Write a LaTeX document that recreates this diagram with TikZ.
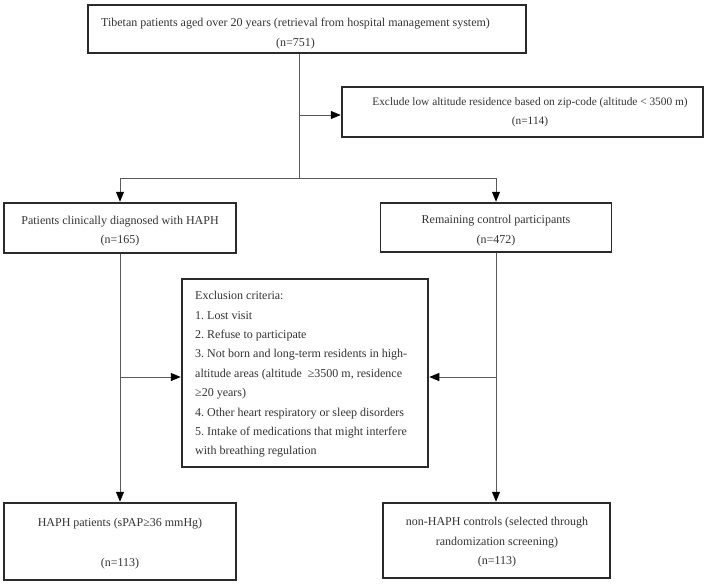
\documentclass[tikz,border=0pt]{standalone}
\usepackage{fontspec}
\setmainfont{Liberation Serif}
\usetikzlibrary{arrows.meta}
\definecolor{txt}{HTML}{333333}
\definecolor{edge}{HTML}{2A2A2A}
\definecolor{conn}{HTML}{5A5A5A}
\frenchspacing
\begin{document}
\begin{tikzpicture}[x=1pt,y=-1pt,
  box/.style={draw=edge,line width=1.3pt,rectangle,inner sep=0pt},
  label text/.style={inner sep=0pt,text=txt,align=center,font=\fontsize{12}{19.4}\selectfont},
  link/.style={draw=conn,line width=0.9pt},
  arr/.style={link,-{Triangle[length=10pt,width=8pt,color=black]},shorten >=0.6pt}]
\useasboundingbox (0,0) rectangle (708,583);
\fill[white] (0,0) rectangle (708,583);

\node[box,minimum width=438pt,minimum height=48pt] (top) at (307,29) {};
\node[label text,font=\fontsize{12}{20.5}\selectfont] (toptext) at (295.5,33.5)
  {Tibetan patients aged over 20 years (retrieval from hospital management system)\\(n=751)};
\node[box,minimum width=361pt,minimum height=50pt] (excl) at (522.5,112) {};
\node[label text,font=\fontsize{11.35}{18.5}\selectfont] (excltext) at (530,112.5)
  {Exclude low altitude residence based on zip-code (altitude < 3500 m)\\(n=114)};
\node[box,minimum width=232pt,minimum height=50pt] (haph) at (120,228) {};
\node[label text] (haphtext) at (120,231)
  {Patients clinically diagnosed with HAPH\\(n=165)};
\node[box,minimum width=231pt,minimum height=49pt] (ctrl) at (496,227.5) {};
\node[label text] (ctrltext) at (496,230.5)
  {Remaining control participants\\(n=472)};
\node[box,minimum width=246pt,minimum height=188pt] (crit) at (305,373) {};
\node[label text,align=left,anchor=west] (crittext) at (195,374.5)
  {Exclusion criteria:\\
   1. Lost visit\\
   2. Refuse to participate\\
   3. Not born and long-term residents in high-\\
   altitude areas (altitude\ \ ≥3500 m, residence\\
   ≥20 years)\\
   4. Other heart respiratory or sleep disorders\\
   5. Intake of medications that might interfere\\
   with breathing regulation};
\node[box,minimum width=232pt,minimum height=77pt] (haphF) at (120,541.5) {};
\node[label text] (haphFtext) at (120,544)
  {HAPH patients (sPAP≥36 mmHg)\\[20.6pt](n=113)};
\node[box,minimum width=227pt,minimum height=75pt] (ctrlF) at (496.5,540.5) {};
\node[label text] (ctrlFtext) at (497,542.5)
  {non-HAPH controls (selected through\\randomization screening)\\(n=113)};

\coordinate (j1) at (299,115);
\coordinate (j2) at (299,178);
\coordinate (l3) at (120,377);
\coordinate (r3) at (496,377);

\draw[link] (top.south -| j1) -- (j2);
\draw[arr] (j1) -- (excl.west |- j1);
\draw[arr] (j2) -| (haph.north);
\draw[arr] (j2) -| (ctrl.north);
\draw[arr] (haph.south) -- (haphF.north);
\draw[arr] (ctrl.south) -- (ctrl.south |- ctrlF.north);
\draw[arr] (l3) -- (crit.west |- l3);
\draw[arr] (r3) -- (crit.east |- r3);
\end{tikzpicture}
\end{document}
